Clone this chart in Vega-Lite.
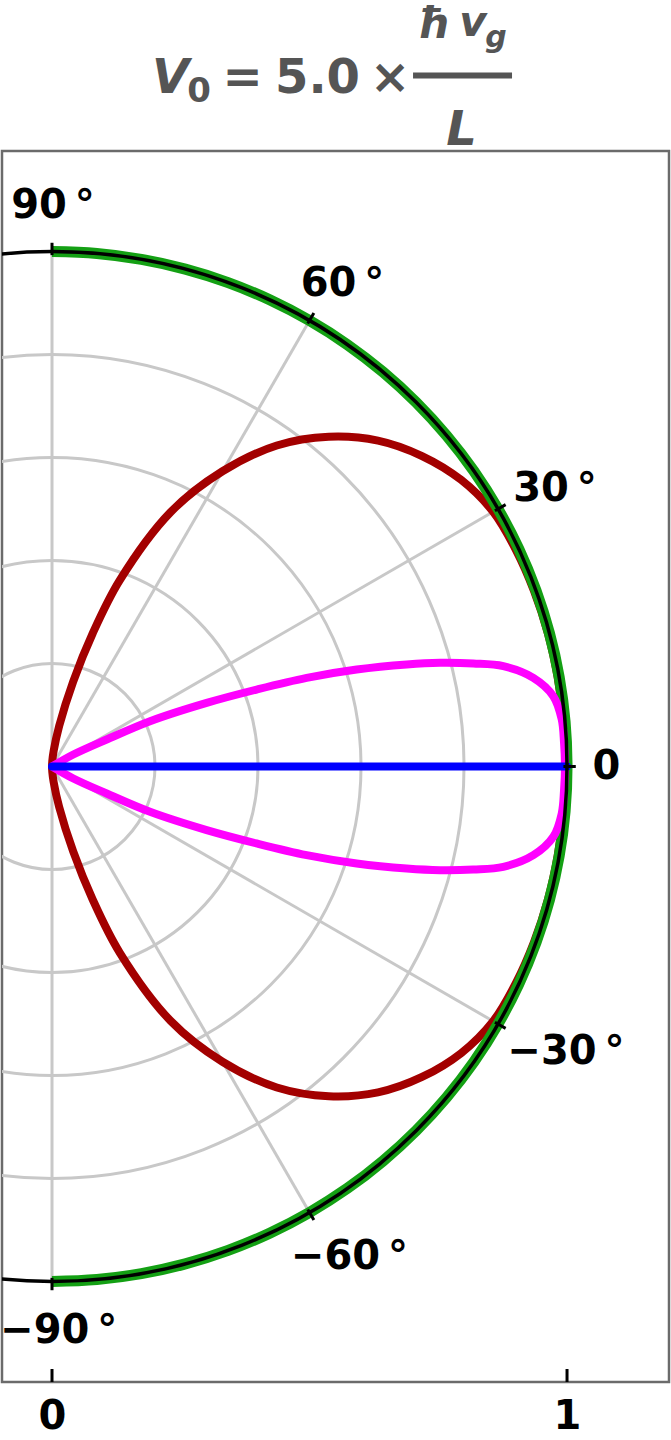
{
  "$schema": "https://vega.github.io/schema/vega-lite/v6.json",
  "width": 667,
  "height": 1231,
  "autosize": {"type": "none"},
  "padding": {"left": 2, "top": 151, "right": 2, "bottom": 58},
  "background": "white",
  "config": {
    "view": {"stroke": "#6b6b6b", "strokeWidth": 2.5},
    "axisX": {"grid": false, "domain": false, "ticks": false, "labelFont": "DejaVu Sans", "labelFontWeight": "bold", "labelFontSize": 40, "labelColor": "black", "labelPadding": 14, "labelFlush": false, "format": "d"},
    "axisY": {"disable": true}
  },
  "datasets": {
    "grid": [{"r": 0.2}, {"r": 0.4}, {"r": 0.6}, {"r": 0.8}],
    "unit": [{"r": 1}],
    "spokes": [
      {"x": 0, "y": 0, "x2": 0.866, "y2": 0.5},
      {"x": 0, "y": 0, "x2": 0.5, "y2": 0.866},
      {"x": 0, "y": 0, "x2": 0.866, "y2": -0.5},
      {"x": 0, "y": 0, "x2": 0.5, "y2": -0.866},
      {"x": 0, "y": -1, "x2": 0, "y2": 1}
    ],
    "ticks": [
      {"x": 0, "y": 0.993, "x2": 0, "y2": 1.017},
      {"x": 0.4965, "y": 0.86, "x2": 0.5085, "y2": 0.8808},
      {"x": 0.86, "y": 0.4965, "x2": 0.8808, "y2": 0.5085},
      {"x": 0.993, "y": 0, "x2": 1.017, "y2": 0},
      {"x": 0.86, "y": -0.4965, "x2": 0.8808, "y2": -0.5085},
      {"x": 0.4965, "y": -0.86, "x2": 0.5085, "y2": -0.8808},
      {"x": 0, "y": -0.993, "x2": 0, "y2": -1.017},
      {"x": 0, "y": -1.1952, "x2": 0, "y2": -1.17},
      {"x": 1, "y": -1.1952, "x2": 1, "y2": -1.17}
    ],
    "green": [
      {"i": 0, "x": 0, "y": -1}, {"i": 1, "x": 0.0872, "y": -0.9962}, {"i": 2, "x": 0.1736, "y": -0.9848},
      {"i": 3, "x": 0.2588, "y": -0.9659}, {"i": 4, "x": 0.342, "y": -0.9397}, {"i": 5, "x": 0.4226, "y": -0.9063},
      {"i": 6, "x": 0.5, "y": -0.866}, {"i": 7, "x": 0.5736, "y": -0.8192}, {"i": 8, "x": 0.6428, "y": -0.766},
      {"i": 9, "x": 0.7071, "y": -0.7071}, {"i": 10, "x": 0.766, "y": -0.6428}, {"i": 11, "x": 0.8192, "y": -0.5736},
      {"i": 12, "x": 0.866, "y": -0.5}, {"i": 13, "x": 0.9063, "y": -0.4226}, {"i": 14, "x": 0.9397, "y": -0.342},
      {"i": 15, "x": 0.9659, "y": -0.2588}, {"i": 16, "x": 0.9848, "y": -0.1736}, {"i": 17, "x": 0.9962, "y": -0.0872},
      {"i": 18, "x": 1, "y": 0},
      {"i": 19, "x": 0.9962, "y": 0.0872}, {"i": 20, "x": 0.9848, "y": 0.1736}, {"i": 21, "x": 0.9659, "y": 0.2588},
      {"i": 22, "x": 0.9397, "y": 0.342}, {"i": 23, "x": 0.9063, "y": 0.4226}, {"i": 24, "x": 0.866, "y": 0.5},
      {"i": 25, "x": 0.8192, "y": 0.5736}, {"i": 26, "x": 0.766, "y": 0.6428}, {"i": 27, "x": 0.7071, "y": 0.7071},
      {"i": 28, "x": 0.6428, "y": 0.766}, {"i": 29, "x": 0.5736, "y": 0.8192}, {"i": 30, "x": 0.5, "y": 0.866},
      {"i": 31, "x": 0.4226, "y": 0.9063}, {"i": 32, "x": 0.342, "y": 0.9397}, {"i": 33, "x": 0.2588, "y": 0.9659},
      {"i": 34, "x": 0.1736, "y": 0.9848}, {"i": 35, "x": 0.0872, "y": 0.9962}, {"i": 36, "x": 0, "y": 1}
    ],
    "red": [
      {"i": 0, "x": 0, "y": 0}, {"i": 1, "x": 0.0005, "y": -0.01}, {"i": 2, "x": 0.0031, "y": -0.0298},
      {"i": 3, "x": 0.0139, "y": -0.0788}, {"i": 4, "x": 0.0411, "y": -0.165}, {"i": 5, "x": 0.0789, "y": -0.2582},
      {"i": 6, "x": 0.1317, "y": -0.3618}, {"i": 7, "x": 0.2303, "y": -0.4939}, {"i": 8, "x": 0.331, "y": -0.5733},
      {"i": 9, "x": 0.4365, "y": -0.6234}, {"i": 10, "x": 0.5374, "y": -0.6404}, {"i": 11, "x": 0.6329, "y": -0.6329},
      {"i": 12, "x": 0.7185, "y": -0.6029}, {"i": 13, "x": 0.7946, "y": -0.5564}, {"i": 14, "x": 0.8565, "y": -0.4945},
      {"i": 15, "x": 0.9009, "y": -0.4201}, {"i": 16, "x": 0.936, "y": -0.3406}, {"i": 17, "x": 0.963, "y": -0.258},
      {"i": 18, "x": 0.9818, "y": -0.1731}, {"i": 19, "x": 0.9932, "y": -0.0869}, {"i": 20, "x": 0.997, "y": 0},
      {"i": 21, "x": 0.9932, "y": 0.0869}, {"i": 22, "x": 0.9818, "y": 0.1731}, {"i": 23, "x": 0.963, "y": 0.258},
      {"i": 24, "x": 0.936, "y": 0.3406}, {"i": 25, "x": 0.9009, "y": 0.4201}, {"i": 26, "x": 0.8565, "y": 0.4945},
      {"i": 27, "x": 0.7946, "y": 0.5564}, {"i": 28, "x": 0.7185, "y": 0.6029}, {"i": 29, "x": 0.6329, "y": 0.6329},
      {"i": 30, "x": 0.5374, "y": 0.6404}, {"i": 31, "x": 0.4365, "y": 0.6234}, {"i": 32, "x": 0.331, "y": 0.5733},
      {"i": 33, "x": 0.2303, "y": 0.4939}, {"i": 34, "x": 0.1317, "y": 0.3618}, {"i": 35, "x": 0.0789, "y": 0.2582},
      {"i": 36, "x": 0.0411, "y": 0.165}, {"i": 37, "x": 0.0139, "y": 0.0788}, {"i": 38, "x": 0.0031, "y": 0.0298},
      {"i": 39, "x": 0.0005, "y": 0.01}, {"i": 40, "x": 0, "y": 0}
    ],
    "magenta": [
      {"i": 0, "x": 0, "y": 0}, {"i": 1, "x": 0.0414, "y": -0.0233}, {"i": 2, "x": 0.1061, "y": -0.0524},
      {"i": 3, "x": 0.1903, "y": -0.088}, {"i": 4, "x": 0.3003, "y": -0.1236}, {"i": 5, "x": 0.3974, "y": -0.1495},
      {"i": 6, "x": 0.4945, "y": -0.1722}, {"i": 7, "x": 0.5916, "y": -0.1883}, {"i": 8, "x": 0.6887, "y": -0.1981},
      {"i": 9, "x": 0.7534, "y": -0.2013}, {"i": 10, "x": 0.818, "y": -0.2}, {"i": 11, "x": 0.8763, "y": -0.1948},
      {"i": 12, "x": 0.9346, "y": -0.1722}, {"i": 13, "x": 0.9734, "y": -0.1365}, {"i": 14, "x": 0.9897, "y": -0.0913},
      {"i": 15, "x": 0.9942, "y": -0.046}, {"i": 16, "x": 0.996, "y": 0},
      {"i": 17, "x": 0.9942, "y": 0.046}, {"i": 18, "x": 0.9897, "y": 0.0913}, {"i": 19, "x": 0.9734, "y": 0.1365},
      {"i": 20, "x": 0.9346, "y": 0.1722}, {"i": 21, "x": 0.8763, "y": 0.1948}, {"i": 22, "x": 0.818, "y": 0.2},
      {"i": 23, "x": 0.7534, "y": 0.2013}, {"i": 24, "x": 0.6887, "y": 0.1981}, {"i": 25, "x": 0.5916, "y": 0.1883},
      {"i": 26, "x": 0.4945, "y": 0.1722}, {"i": 27, "x": 0.3974, "y": 0.1495}, {"i": 28, "x": 0.3003, "y": 0.1236},
      {"i": 29, "x": 0.1903, "y": 0.088}, {"i": 30, "x": 0.1061, "y": 0.0524}, {"i": 31, "x": 0.0414, "y": 0.0233},
      {"i": 32, "x": 0, "y": 0}
    ],
    "blue": [{"i": 0, "x": 0, "y": 0}, {"i": 1, "x": 1, "y": 0}],
    "labels": [
      {"label": "90\u2009°", "x": 0.0019, "y": 1.066},
      {"label": "60\u2009°", "x": 0.564, "y": 0.9146},
      {"label": "30\u2009°", "x": 0.9767, "y": 0.5146},
      {"label": "0", "x": 1.0767, "y": -0.0252},
      {"label": "−30\u2009°", "x": 0.998, "y": -0.5786},
      {"label": "−60\u2009°", "x": 0.5777, "y": -0.9767},
      {"label": "−90\u2009°", "x": 0.013, "y": -1.1204}
    ]
  },
  "layer": [
    {
      "data": {"name": "grid"},
      "mark": {"type": "point", "shape": "circle", "filled": false, "stroke": "#c8c8c8", "strokeWidth": 3, "opacity": 1, "clip": true},
      "encoding": {
        "x": {"datum": 0, "type": "quantitative", "scale": {"domain": [-0.0971, 1.198], "nice": false, "zero": false}, "axis": {"values": [0, 1], "title": null}},
        "y": {"datum": 0, "type": "quantitative", "scale": {"domain": [-1.1952, 1.1952], "nice": false, "zero": false}, "axis": null},
        "size": {"field": "r", "type": "quantitative", "scale": {"type": "pow", "exponent": 2, "domain": [0, 1], "range": [0, 1060900]}, "legend": null}
      }
    },
    {
      "data": {"name": "spokes"},
      "mark": {"type": "rule", "stroke": "#c8c8c8", "strokeWidth": 3, "clip": true},
      "encoding": {
        "x": {"field": "x", "type": "quantitative", "scale": {"domain": [-0.0971, 1.198], "nice": false, "zero": false}, "axis": {"values": [0, 1], "title": null}},
        "y": {"field": "y", "type": "quantitative", "scale": {"domain": [-1.1952, 1.1952], "nice": false, "zero": false}, "axis": null},
        "x2": {"field": "x2"},
        "y2": {"field": "y2"}
      }
    },
    {
      "data": {"name": "red"},
      "mark": {"type": "line", "interpolate": "catmull-rom", "stroke": "#a30000", "strokeWidth": 8, "clip": true},
      "encoding": {
        "x": {"field": "x", "type": "quantitative", "scale": {"domain": [-0.0971, 1.198], "nice": false, "zero": false}, "axis": {"values": [0, 1], "title": null}},
        "y": {"field": "y", "type": "quantitative", "scale": {"domain": [-1.1952, 1.1952], "nice": false, "zero": false}, "axis": null},
        "order": {"field": "i", "type": "quantitative"}
      }
    },
    {
      "data": {"name": "green"},
      "mark": {"type": "line", "interpolate": "catmull-rom", "stroke": "#14a014", "strokeWidth": 11, "clip": true},
      "encoding": {
        "x": {"field": "x", "type": "quantitative", "scale": {"domain": [-0.0971, 1.198], "nice": false, "zero": false}, "axis": {"values": [0, 1], "title": null}},
        "y": {"field": "y", "type": "quantitative", "scale": {"domain": [-1.1952, 1.1952], "nice": false, "zero": false}, "axis": null},
        "order": {"field": "i", "type": "quantitative"}
      }
    },
    {
      "data": {"name": "magenta"},
      "mark": {"type": "line", "interpolate": "catmull-rom", "stroke": "#ff00ff", "strokeWidth": 8, "clip": true},
      "encoding": {
        "x": {"field": "x", "type": "quantitative", "scale": {"domain": [-0.0971, 1.198], "nice": false, "zero": false}, "axis": {"values": [0, 1], "title": null}},
        "y": {"field": "y", "type": "quantitative", "scale": {"domain": [-1.1952, 1.1952], "nice": false, "zero": false}, "axis": null},
        "order": {"field": "i", "type": "quantitative"}
      }
    },
    {
      "data": {"name": "blue"},
      "mark": {"type": "line", "stroke": "#0000ff", "strokeWidth": 8, "strokeCap": "round", "clip": true},
      "encoding": {
        "x": {"field": "x", "type": "quantitative", "scale": {"domain": [-0.0971, 1.198], "nice": false, "zero": false}, "axis": {"values": [0, 1], "title": null}},
        "y": {"field": "y", "type": "quantitative", "scale": {"domain": [-1.1952, 1.1952], "nice": false, "zero": false}, "axis": null},
        "order": {"field": "i", "type": "quantitative"}
      }
    },
    {
      "data": {"name": "unit"},
      "mark": {"type": "point", "shape": "circle", "filled": false, "stroke": "black", "strokeWidth": 3.5, "opacity": 1, "clip": true},
      "encoding": {
        "x": {"datum": 0, "type": "quantitative", "scale": {"domain": [-0.0971, 1.198], "nice": false, "zero": false}, "axis": {"values": [0, 1], "title": null}},
        "y": {"datum": 0, "type": "quantitative", "scale": {"domain": [-1.1952, 1.1952], "nice": false, "zero": false}, "axis": null},
        "size": {"field": "r", "type": "quantitative", "scale": {"type": "pow", "exponent": 2, "domain": [0, 1], "range": [0, 1060900]}, "legend": null}
      }
    },
    {
      "data": {"name": "ticks"},
      "mark": {"type": "rule", "stroke": "black", "strokeWidth": 3, "clip": true},
      "encoding": {
        "x": {"field": "x", "type": "quantitative", "scale": {"domain": [-0.0971, 1.198], "nice": false, "zero": false}, "axis": {"values": [0, 1], "title": null}},
        "y": {"field": "y", "type": "quantitative", "scale": {"domain": [-1.1952, 1.1952], "nice": false, "zero": false}, "axis": null},
        "x2": {"field": "x2"},
        "y2": {"field": "y2"}
      }
    },
    {
      "data": {"name": "labels"},
      "mark": {"type": "text", "font": "DejaVu Sans", "fontWeight": "bold", "fontSize": 40, "color": "black", "align": "center", "baseline": "alphabetic"},
      "encoding": {
        "x": {"field": "x", "type": "quantitative", "scale": {"domain": [-0.0971, 1.198], "nice": false, "zero": false}, "axis": {"values": [0, 1], "title": null}},
        "y": {"field": "y", "type": "quantitative", "scale": {"domain": [-1.1952, 1.1952], "nice": false, "zero": false}, "axis": null},
        "text": {"field": "label"}
      }
    },
    {
      "data": {"values": [{}]},
      "mark": {"type": "text", "text": "V", "font": "DejaVu Sans", "fontWeight": "bold", "fontStyle": "italic", "fontSize": 48, "color": "#555555", "align": "center", "baseline": "alphabetic"},
      "encoding": {
        "x": {"datum": 0.23, "type": "quantitative", "scale": {"domain": [-0.0971, 1.198], "nice": false, "zero": false}, "axis": {"values": [0, 1], "title": null}},
        "y": {"datum": 1.3087, "type": "quantitative", "scale": {"domain": [-1.1952, 1.1952], "nice": false, "zero": false}, "axis": null}
      }
    },
    {
      "data": {"values": [{}]},
      "mark": {"type": "text", "text": "0", "font": "DejaVu Sans", "fontWeight": "bold", "fontSize": 34, "color": "#555555", "align": "center", "baseline": "alphabetic"},
      "encoding": {
        "x": {"datum": 0.2854, "type": "quantitative", "scale": {"domain": [-0.0971, 1.198], "nice": false, "zero": false}, "axis": {"values": [0, 1], "title": null}},
        "y": {"datum": 1.2913, "type": "quantitative", "scale": {"domain": [-1.1952, 1.1952], "nice": false, "zero": false}, "axis": null}
      }
    },
    {
      "data": {"values": [{}]},
      "mark": {"type": "text", "text": "=", "font": "DejaVu Sans", "fontWeight": "bold", "fontSize": 48, "color": "#555555", "align": "center", "baseline": "alphabetic"},
      "encoding": {
        "x": {"datum": 0.3699, "type": "quantitative", "scale": {"domain": [-0.0971, 1.198], "nice": false, "zero": false}, "axis": {"values": [0, 1], "title": null}},
        "y": {"datum": 1.3087, "type": "quantitative", "scale": {"domain": [-1.1952, 1.1952], "nice": false, "zero": false}, "axis": null}
      }
    },
    {
      "data": {"values": [{}]},
      "mark": {"type": "text", "text": "5.0", "font": "DejaVu Sans", "fontWeight": "bold", "fontSize": 48, "color": "#555555", "align": "center", "baseline": "alphabetic"},
      "encoding": {
        "x": {"datum": 0.5155, "type": "quantitative", "scale": {"domain": [-0.0971, 1.198], "nice": false, "zero": false}, "axis": {"values": [0, 1], "title": null}},
        "y": {"datum": 1.3087, "type": "quantitative", "scale": {"domain": [-1.1952, 1.1952], "nice": false, "zero": false}, "axis": null}
      }
    },
    {
      "data": {"values": [{}]},
      "mark": {"type": "text", "text": "×", "font": "DejaVu Sans", "fontWeight": "bold", "fontSize": 48, "color": "#555555", "align": "center", "baseline": "alphabetic"},
      "encoding": {
        "x": {"datum": 0.6563, "type": "quantitative", "scale": {"domain": [-0.0971, 1.198], "nice": false, "zero": false}, "axis": {"values": [0, 1], "title": null}},
        "y": {"datum": 1.3087, "type": "quantitative", "scale": {"domain": [-1.1952, 1.1952], "nice": false, "zero": false}, "axis": null}
      }
    },
    {
      "data": {"values": [{}]},
      "mark": {"type": "rule", "stroke": "#555555", "strokeWidth": 6},
      "encoding": {
        "x": {"datum": 0.701, "type": "quantitative", "scale": {"domain": [-0.0971, 1.198], "nice": false, "zero": false}, "axis": {"values": [0, 1], "title": null}},
        "x2": {"datum": 0.8932},
        "y": {"datum": 1.3417, "type": "quantitative", "scale": {"domain": [-1.1952, 1.1952], "nice": false, "zero": false}, "axis": null}
      }
    },
    {
      "data": {"values": [{}]},
      "mark": {"type": "text", "text": "ħ", "font": "DejaVu Sans", "fontWeight": "bold", "fontStyle": "italic", "fontSize": 42, "color": "#555555", "align": "center", "baseline": "alphabetic"},
      "encoding": {
        "x": {"datum": 0.7408, "type": "quantitative", "scale": {"domain": [-0.0971, 1.198], "nice": false, "zero": false}, "axis": {"values": [0, 1], "title": null}},
        "y": {"datum": 1.415, "type": "quantitative", "scale": {"domain": [-1.1952, 1.1952], "nice": false, "zero": false}, "axis": null}
      }
    },
    {
      "data": {"values": [{}]},
      "mark": {"type": "text", "text": "v", "font": "DejaVu Sans", "fontWeight": "bold", "fontStyle": "italic", "fontSize": 42, "color": "#555555", "align": "center", "baseline": "alphabetic"},
      "encoding": {
        "x": {"datum": 0.8175, "type": "quantitative", "scale": {"domain": [-0.0971, 1.198], "nice": false, "zero": false}, "axis": {"values": [0, 1], "title": null}},
        "y": {"datum": 1.418, "type": "quantitative", "scale": {"domain": [-1.1952, 1.1952], "nice": false, "zero": false}, "axis": null}
      }
    },
    {
      "data": {"values": [{}]},
      "mark": {"type": "text", "text": "g", "font": "DejaVu Sans", "fontWeight": "bold", "fontStyle": "italic", "fontSize": 30, "color": "#555555", "align": "center", "baseline": "alphabetic"},
      "encoding": {
        "x": {"datum": 0.862, "type": "quantitative", "scale": {"domain": [-0.0971, 1.198], "nice": false, "zero": false}, "axis": {"values": [0, 1], "title": null}},
        "y": {"datum": 1.398, "type": "quantitative", "scale": {"domain": [-1.1952, 1.1952], "nice": false, "zero": false}, "axis": null}
      }
    },
    {
      "data": {"values": [{}]},
      "mark": {"type": "text", "text": "L", "font": "DejaVu Sans", "fontWeight": "bold", "fontStyle": "italic", "fontSize": 48, "color": "#555555", "align": "center", "baseline": "alphabetic"},
      "encoding": {
        "x": {"datum": 0.7951, "type": "quantitative", "scale": {"domain": [-0.0971, 1.198], "nice": false, "zero": false}, "axis": {"values": [0, 1], "title": null}},
        "y": {"datum": 1.2078, "type": "quantitative", "scale": {"domain": [-1.1952, 1.1952], "nice": false, "zero": false}, "axis": null}
      }
    }
  ]
}
